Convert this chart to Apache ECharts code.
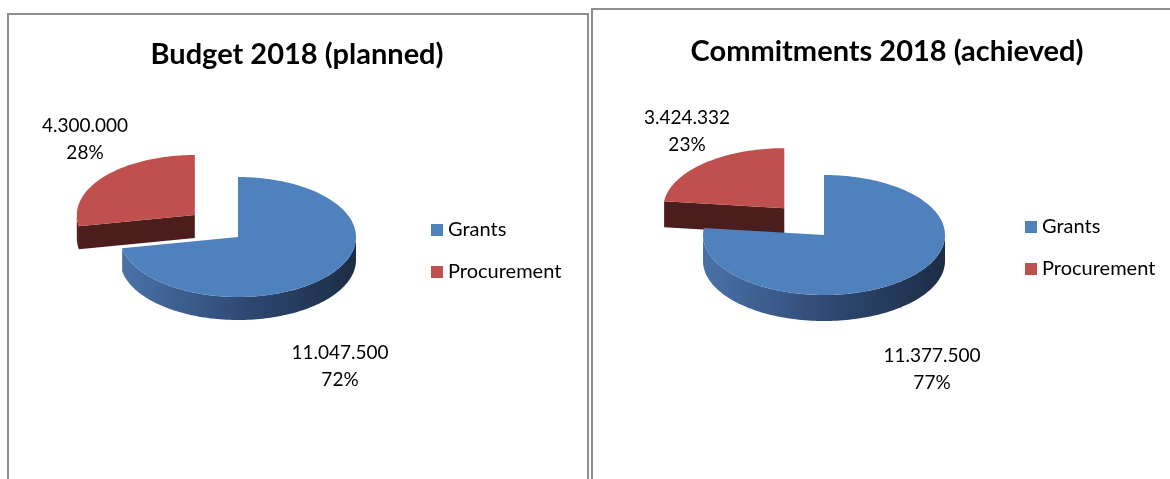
<!DOCTYPE html>
<html>
<head>
<meta charset="utf-8">
<script src="https://cdn.jsdelivr.net/npm/echarts@6/dist/echarts.min.js"></script>
<style>
html, body { margin: 0; padding: 0; background: #fff; }
#main { width: 1170px; height: 479px; }
</style>
</head>
<body>
<div id="main"></div>
<script>
// data
var sliceNames = ['Grants', 'Procurement'];
var chartTitles = ['Budget 2018 (planned)', 'Commitments 2018 (achieved)'];
var grants = [11047500, 11377500];
var procurement = [4300000, 3424332];

// layout of the two panels (pixels)
var panels = [
    { box: [8, 14, 580, 500], cx: 238, cy: 237, rx: 118, ry: 60, depth: 23, explode: 0.5,
      titleX: 297, titleY: 55, labels: [[340, 366], [85, 139]], legend: [431, 220] },
    { box: [592, 9, 600, 500], cx: 824, cy: 235, rx: 121, ry: 60, depth: 26, explode: 0.52,
      titleX: 887, titleY: 52, labels: [[932, 369], [687, 131]], legend: [1025, 217] }
];

var sliceColors = [
    { top: '#4f81bd', wall: ['#4a72a8', '#2d4770', '#1c2d45'], edge: '#24395a' },
    { top: '#c0504d', wall: ['#5a2322', '#4a1c1c', '#451a1a'], edge: '#4c1d1d' }
];

var FONT = 'Lato, "Open Sans", sans-serif';

function fmtNum(v) {
    return String(v).replace(/\B(?=(\d{3})+(?!\d))/g, '.');
}

function ellPt(p, cx, cy, a) {
    var r = a * Math.PI / 180;
    return [cx + p.rx * Math.sin(r), cy - p.ry * Math.cos(r)];
}

function arcPts(p, cx, cy, a0, a1) {
    var pts = [];
    var n = Math.max(2, Math.ceil((a1 - a0) / 1.5));
    for (var i = 0; i <= n; i++) {
        pts.push(ellPt(p, cx, cy, a0 + (a1 - a0) * i / n));
    }
    return pts;
}

function makeRender(pi, idx) {
    return function (params, api) {
        var p = panels[pi];
        var vals = [grants[pi], procurement[pi]];
        var total = vals[0] + vals[1];
        var v = api.value(0);
        var a0 = idx === 0 ? 0 : vals[0] / total * 360;
        var a1 = a0 + v / total * 360;
        var mid = (a0 + a1) / 2 * Math.PI / 180;
        var ex = idx === 1 ? p.explode : 0;
        var cx = p.cx + ex * p.rx * Math.sin(mid) * 0.95;
        var cy = p.cy - ex * p.ry * Math.cos(mid) * 1.15;
        var col = sliceColors[idx];
        var d = p.depth;
        var children = [];

        // radial side walls facing the viewer
        [[a0, a0 - 90], [a1, a1 + 90]].forEach(function (e) {
            if (Math.cos(e[1] * Math.PI / 180) < -1e-6) {
                var q = ellPt(p, cx, cy, e[0]);
                children.push({
                    type: 'polygon',
                    shape: { points: [[cx, cy], q, [q[0], q[1] + d], [cx, cy + d]] },
                    style: { fill: col.edge }
                });
            }
        });

        // outer curved wall (front half only)
        var w0 = Math.max(a0, 90), w1 = Math.min(a1, 270);
        if (w1 > w0) {
            var topArc = arcPts(p, cx, cy, w0, w1);
            var botArc = topArc.map(function (q) { return [q[0], q[1] + d]; }).reverse();
            children.push({
                type: 'polygon',
                shape: { points: topArc.concat(botArc) },
                style: {
                    fill: {
                        type: 'linear', x: 1, y: 0, x2: 0, y2: 0,
                        colorStops: [
                            { offset: 0, color: col.wall[2] },
                            { offset: 0.45, color: col.wall[1] },
                            { offset: 1, color: col.wall[0] }
                        ]
                    }
                }
            });
        }

        // top face
        children.push({
            type: 'polygon',
            shape: { points: [[cx, cy]].concat(arcPts(p, cx, cy, a0, a1)) },
            style: { fill: col.top }
        });

        // data label
        var lp = p.labels[idx];
        children.push({
            type: 'text',
            x: lp[0],
            y: lp[1],
            style: {
                text: fmtNum(v) + '\n' + Math.round(v / total * 100) + '%',
                align: 'center',
                verticalAlign: 'middle',
                font: '19px ' + FONT,
                lineHeight: 27,
                fill: '#000'
            }
        });

        return { type: 'group', children: children };
    };
}

var series = [];
panels.forEach(function (p, pi) {
    // procurement first so the exploded slice sits behind
    [1, 0].forEach(function (idx) {
        series.push({
            type: 'custom',
            name: sliceNames[idx],
            coordinateSystem: 'none',
            silent: true,
            z: idx === 1 ? 2 : 3,
            itemStyle: { color: sliceColors[idx].top },
            renderItem: makeRender(pi, idx),
            data: [[idx === 0 ? grants[pi] : procurement[pi]]]
        });
    });
});

var myChart = echarts.init(document.getElementById('main'));

var option = {
    animation: false,
    backgroundColor: '#fff',
    title: panels.map(function (p, i) {
        return {
            text: chartTitles[i],
            left: p.titleX,
            top: p.titleY - 17,
            textAlign: 'center',
            padding: 0,
            textStyle: { fontFamily: FONT, fontWeight: 'bold', fontSize: 29, color: '#000', lineHeight: 34 }
        };
    }),
    legend: panels.map(function (p) {
        return {
            orient: 'vertical',
            left: p.legend[0],
            top: p.legend[1],
            padding: 0,
            itemWidth: 12,
            itemHeight: 12,
            itemGap: 22,
            icon: 'rect',
            selectedMode: false,
            data: sliceNames,
            textStyle: { fontFamily: FONT, fontSize: 20, color: '#000', lineHeight: 20, padding: [0, 0, 0, 0] }
        };
    }),
    graphic: panels.map(function (p) {
        return {
            type: 'rect',
            z: -1,
            shape: { x: p.box[0], y: p.box[1], width: p.box[2], height: p.box[3] },
            style: { fill: 'none', stroke: '#8e8e8e', lineWidth: 2 }
        };
    }),
    series: series
};

myChart.setOption(option);
</script>
</body>
</html>
